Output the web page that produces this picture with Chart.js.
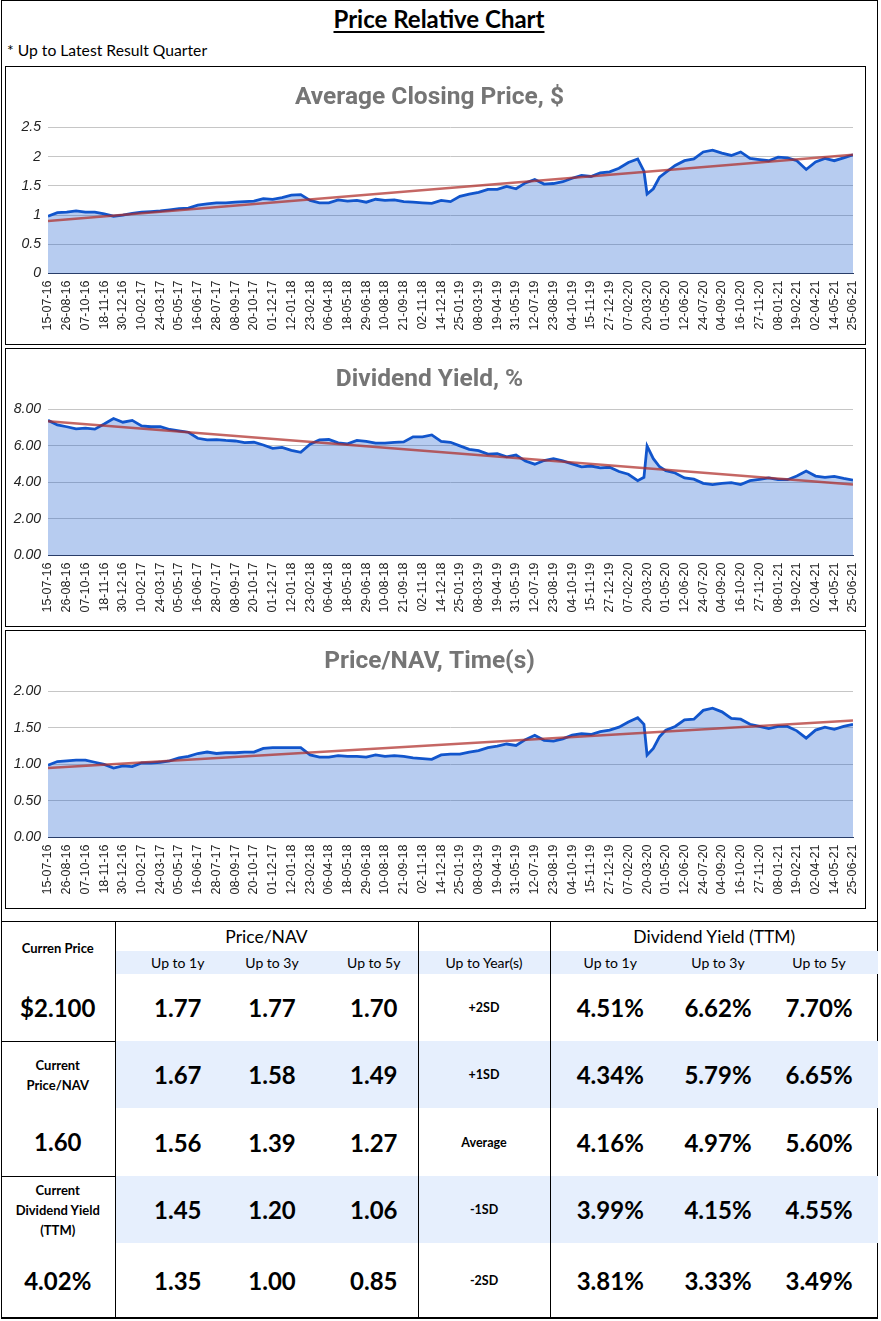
<!DOCTYPE html>
<html>
<head>
<meta charset="utf-8">
<title>Price Relative Chart</title>
<script src="https://cdn.jsdelivr.net/npm/chart.js@4.4.1/dist/chart.umd.min.js"></script>
<style>
  html, body { margin: 0; padding: 0; background: #fff; }
  body { width: 881px; height: 1321px; position: relative; overflow: hidden; font-family: Lato, 'Open Sans', sans-serif; color: #000; }
  #frame { position: absolute; left: 1px; top: 0; width: 877px; height: 1318px; border: 1px solid #000; box-sizing: border-box; }
  #title { position: absolute; left: 0; width: 878px; top: 4px; text-align: center; font-weight: bold; font-size: 24px; text-decoration: underline; text-underline-offset: 3px; }
  #note { position: absolute; left: 7px; top: 41px; font-size: 15.7px; }
  .box { position: absolute; left: 5px; width: 861px; height: 279px; border: 1px solid #000; box-sizing: border-box; }
  .box canvas { position: absolute; left: 0; top: 0; }
  #stats { position: absolute; left: 1px; top: 921px; width: 877px; border-collapse: collapse; table-layout: fixed; border-top: 1px solid #000; border-bottom: 1px solid #000; }
  #stats col.sep { border-right: 1px solid #000; }
  #stats td { padding: 0; text-align: center; vertical-align: middle; }
  #stats .band { background: #e6effd; }
  #stats .grp { font-size: 17.5px; height: 29px; }
  #stats .sub td { font-size: 14px; height: 23px; }
  #stats .lbl { font-weight: bold; font-size: 13px; line-height: 20px; }
  #stats .big { font-weight: bold; font-size: 24px; }
  #stats .sd { font-weight: bold; font-size: 12.5px; }
  #stats .top { border-top: 1px solid #000; }
  #stats .p3 { padding-left: 26px; }
  #stats .p5 { padding-left: 6px; }
  #stats .p7 { padding-right: 12px; }
</style>
</head>
<body>
<div id="frame"></div>
<div id="title">Price Relative Chart</div>
<div id="note">* Up to Latest Result Quarter</div>

<div class="box" style="top:66px"><canvas id="priceChart" width="859" height="277"></canvas></div>
<div class="box" style="top:348px"><canvas id="yieldChart" width="859" height="277"></canvas></div>
<div class="box" style="top:630px"><canvas id="navChart" width="859" height="277"></canvas></div>

<table id="stats">
  <colgroup>
    <col class="sep" style="width:114px">
    <col style="width:125px">
    <col style="width:64px">
    <col class="sep" style="width:114px">
    <col class="sep" style="width:132px">
    <col style="width:114px">
    <col style="width:108px">
    <col style="width:106px">
  </colgroup>
  <tr>
    <td rowspan="2" class="lbl">Curren Price</td>
    <td colspan="3" class="grp">Price/NAV</td>
    <td class="grp"></td>
    <td colspan="3" class="grp">Dividend Yield (TTM)</td>
  </tr>
  <tr class="sub">
    <td class="band">Up to 1y</td><td class="band">Up to 3y</td><td class="band p3">Up to 5y</td>
    <td class="band">Up to Year(s)</td>
    <td class="band p5">Up to 1y</td><td class="band">Up to 3y</td><td class="band p7">Up to 5y</td>
  </tr>
  <tr style="height:67px">
    <td class="big">$2.100</td>
    <td class="big">1.77</td><td class="big">1.77</td><td class="big p3">1.70</td>
    <td class="sd">+2SD</td>
    <td class="big p5">4.51%</td><td class="big">6.62%</td><td class="big p7">7.70%</td>
  </tr>
  <tr style="height:67px">
    <td class="lbl top">Current<br>Price/NAV</td>
    <td class="big band">1.67</td><td class="big band">1.58</td><td class="big band p3">1.49</td>
    <td class="sd band">+1SD</td>
    <td class="big band p5">4.34%</td><td class="big band">5.79%</td><td class="big band p7">6.65%</td>
  </tr>
  <tr style="height:68px">
    <td class="big">1.60</td>
    <td class="big">1.56</td><td class="big">1.39</td><td class="big p3">1.27</td>
    <td class="sd">Average</td>
    <td class="big p5">4.16%</td><td class="big">4.97%</td><td class="big p7">5.60%</td>
  </tr>
  <tr style="height:67px">
    <td class="lbl top">Current<br>Dividend Yield<br>(TTM)</td>
    <td class="big band">1.45</td><td class="big band">1.20</td><td class="big band p3">1.06</td>
    <td class="sd band">-1SD</td>
    <td class="big band p5">3.99%</td><td class="big band">4.15%</td><td class="big band p7">4.55%</td>
  </tr>
  <tr style="height:75px">
    <td class="big">4.02%</td>
    <td class="big">1.35</td><td class="big">1.00</td><td class="big p3">0.85</td>
    <td class="sd">-2SD</td>
    <td class="big p5">3.81%</td><td class="big">3.33%</td><td class="big p7">3.49%</td>
  </tr>
</table>

<script>
// x-axis tick labels, one every 6 weeks
const tickLabels = ['15-07-16','26-08-16','07-10-16','18-11-16','30-12-16','10-02-17','24-03-17','05-05-17',
  '16-06-17','28-07-17','08-09-17','20-10-17','01-12-17','12-01-18','23-02-18','06-04-18','18-05-18',
  '29-06-18','10-08-18','21-09-18','02-11-18','14-12-18','25-01-19','08-03-19','19-04-19','31-05-19',
  '12-07-19','23-08-19','04-10-19','15-11-19','27-12-19','07-02-20','20-03-20','01-05-20','12-06-20',
  '24-07-20','04-09-20','16-10-20','27-11-20','08-01-21','19-02-21','02-04-21','14-05-21','25-06-21'];
const lastWeek = 258;

// sample positions, in weeks from 15-07-16
const weekIdx = [0,3,6,9,12,15,18,21,24,27,30,33,36,39,42,45,48,51,54,57,60,63,66,69,72,75,78,81,84,87,
  90,93,96,99,102,105,108,111,114,117,120,123,126,129,132,135,138,141,144,147,150,153,156,159,162,165,
  168,171,174,177,180,183,186,189,191,192,194,196,198,201,204,207,210,213,216,219,222,225,228,231,234,
  237,240,243,246,249,252,255,258];

const closePrice = [0.98,1.04,1.05,1.07,1.05,1.05,1.02,0.98,1.00,1.03,
  1.05,1.06,1.07,1.09,1.11,1.12,1.17,1.19,1.21,1.21,
  1.22,1.23,1.24,1.28,1.27,1.30,1.34,1.35,1.25,1.21,
  1.21,1.26,1.24,1.25,1.22,1.27,1.25,1.26,1.23,1.22,
  1.21,1.20,1.25,1.23,1.32,1.36,1.39,1.44,1.44,1.49,
  1.45,1.55,1.61,1.53,1.54,1.57,1.63,1.68,1.66,1.72,
  1.74,1.80,1.90,1.96,1.75,1.36,1.45,1.65,1.73,
  1.85,1.93,1.96,2.08,2.11,2.06,2.02,2.08,1.97,1.95,
  1.93,1.99,1.98,1.93,1.78,1.91,1.97,1.93,1.98,2.03];

const divYield = [7.40,7.15,7.05,6.93,6.97,6.92,7.20,7.50,7.30,7.40,
  7.10,7.05,7.05,6.90,6.82,6.75,6.42,6.33,6.35,6.30,
  6.27,6.18,6.20,6.05,5.87,5.92,5.76,5.65,6.10,6.33,
  6.35,6.17,6.11,6.30,6.25,6.15,6.15,6.20,6.22,6.50,
  6.50,6.60,6.25,6.20,6.00,5.81,5.74,5.55,5.58,5.40,
  5.50,5.17,5.00,5.20,5.30,5.18,5.02,4.85,4.90,4.80,
  4.83,4.60,4.45,4.10,4.28,6.00,5.30,4.86,4.65,
  4.52,4.25,4.18,3.95,3.88,3.95,3.99,3.88,4.10,4.17,
  4.25,4.15,4.15,4.35,4.62,4.35,4.28,4.33,4.22,4.13];

const priceNav = [0.99,1.04,1.05,1.06,1.06,1.03,1.00,0.95,0.98,0.97,
  1.02,1.02,1.03,1.05,1.09,1.11,1.15,1.17,1.15,1.16,
  1.16,1.17,1.17,1.22,1.23,1.23,1.23,1.23,1.13,1.10,
  1.10,1.12,1.11,1.11,1.10,1.13,1.11,1.12,1.11,1.09,
  1.08,1.07,1.13,1.14,1.14,1.17,1.19,1.23,1.25,1.28,
  1.26,1.34,1.40,1.33,1.32,1.35,1.40,1.42,1.41,1.45,
  1.47,1.51,1.58,1.64,1.55,1.13,1.22,1.38,1.47,
  1.52,1.61,1.62,1.74,1.77,1.72,1.63,1.62,1.55,1.52,
  1.49,1.52,1.52,1.46,1.36,1.47,1.51,1.48,1.52,1.55];

// linear trend, value at first and last week
const priceTrend = [0.90, 2.03];
const yieldTrend = [7.35, 3.89];
const navTrend = [0.95, 1.60];

const isMult = (v, m) => Math.abs(v / m - Math.round(v / m)) < 1e-6;

function makeChart(id, title, values, trend, yMax, step, major, fmt) {
  const series = values.map((v, i) => ({ x: weekIdx[i], y: v }));
  const trendPts = [{ x: 0, y: trend[0] }, { x: lastWeek, y: trend[1] }];
  return new Chart(document.getElementById(id), {
    type: 'line',
    data: {
      datasets: [
        { data: trendPts, borderColor: 'rgba(175,45,40,0.72)', borderWidth: 2.5, pointRadius: 0, fill: false },
        { data: series, borderColor: '#1155cc', borderWidth: 2.8, pointRadius: 0, tension: 0,
          fill: 'origin', backgroundColor: 'rgba(17,85,204,0.3)' }
      ]
    },
    options: {
      responsive: false,
      animation: false,
      layout: { padding: { top: 0, left: 0, right: 12, bottom: 0 } },
      plugins: {
        legend: { display: false },
        tooltip: { enabled: false },
        title: {
          display: true, text: title, color: '#757575',
          font: { family: 'Roboto', size: 24.5, weight: 'bold' },
          padding: { top: 16, bottom: 15 }
        }
      },
      scales: {
        x: {
          type: 'linear', min: 0, max: lastWeek,
          grid: { display: false, drawTicks: false },
          border: { display: true, color: '#2b3d66' },
          ticks: {
            stepSize: 6, maxTicksLimit: 100, autoSkip: false,
            minRotation: 90, maxRotation: 90, padding: 7,
            color: '#222', font: { family: 'Liberation Sans', size: 12.5 },
            callback: (v) => tickLabels[Math.round(v / 6)] || ''
          },
          afterFit: (s) => { s.height = 70.5; s.paddingLeft = 0; s.paddingRight = 0; }
        },
        y: {
          min: 0, max: yMax,
          grid: {
            drawTicks: false,
            color: (c) => c.tick.value === 0 ? '#2b3d66' : (isMult(c.tick.value, major) ? '#c6c6c6' : '#e4e4e4')
          },
          border: { display: false },
          ticks: {
            stepSize: step, padding: 7, color: '#222',
            font: { family: 'Liberation Sans', size: 14, style: 'italic' },
            callback: (v) => isMult(v, major) ? fmt(v) : ''
          },
          afterFit: (s) => { s.width = 42; s.paddingTop = 0; s.paddingBottom = 0; }
        }
      }
    }
  });
}

makeChart('priceChart', 'Average Closing Price, $', closePrice, priceTrend, 2.5, 0.25, 0.5, (v) => String(+v.toFixed(2)));
makeChart('yieldChart', 'Dividend Yield, %', divYield, yieldTrend, 8, 1, 2, (v) => v.toFixed(2));
makeChart('navChart', 'Price/NAV, Time(s)', priceNav, navTrend, 2, 0.25, 0.5, (v) => v.toFixed(2));
</script>
</body>
</html>
